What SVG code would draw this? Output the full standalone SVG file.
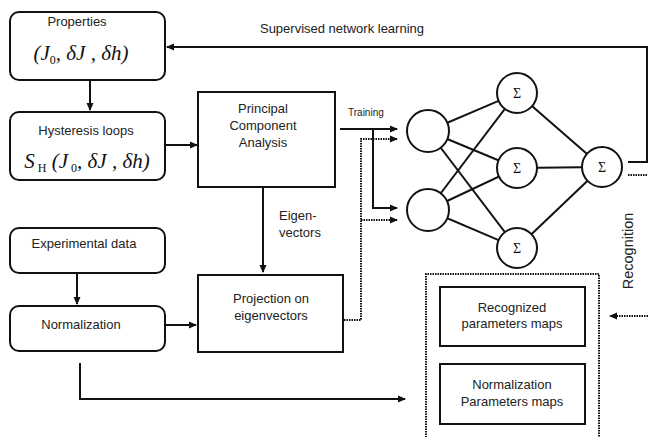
<svg xmlns="http://www.w3.org/2000/svg" width="648" height="437" viewBox="0 0 648 437">
<defs>
<marker id="ah" viewBox="0 0 8 8" refX="7" refY="4" markerWidth="8" markerHeight="8" markerUnits="userSpaceOnUse" orient="auto">
<path d="M0,0.5 L8,4 L0,7.5 Z" fill="#111"/>
</marker>
</defs>
<style>
.box{fill:#fff;stroke:#111;stroke-width:2}
.lbl{font-family:"Liberation Sans",Arial,sans-serif;font-size:13px;fill:#222;text-anchor:middle}
.sm{font-family:"Liberation Sans",Arial,sans-serif;font-size:10px;fill:#222}
.math{font-family:"Liberation Serif","Times New Roman",serif;font-size:21px;fill:#111;font-style:italic;text-anchor:middle}
.sub{font-size:12px;font-style:normal}
.ln{fill:none;stroke:#111;stroke-width:2}
.dot{fill:none;stroke:#111;stroke-width:2;stroke-dasharray:1.5 1}
.neu{fill:#fff;stroke:#111;stroke-width:2}
.sig{font-family:"Liberation Serif","Times New Roman",serif;font-size:14px;fill:#111;text-anchor:middle}
</style>
<rect width="648" height="437" fill="#fff"/>

<g id="connectors">
<line class="ln" x1="648" y1="47" x2="167" y2="47" marker-end="url(#ah)"/>
<polyline class="ln" points="628,162 647,162 647,47"/>
<line class="dot" x1="628" y1="175" x2="648" y2="175"/>
<line class="dot" x1="648" y1="316" x2="610" y2="316" marker-end="url(#ah)"/>
<line class="ln" x1="90" y1="80" x2="90" y2="110" marker-end="url(#ah)"/>
<line class="ln" x1="165" y1="145" x2="197" y2="145" marker-end="url(#ah)"/>
<line class="ln" x1="263" y1="187" x2="263" y2="272" marker-end="url(#ah)"/>
<line class="ln" x1="77" y1="273" x2="77" y2="304" marker-end="url(#ah)"/>
<line class="ln" x1="165" y1="325" x2="196" y2="325" marker-end="url(#ah)"/>
<polyline class="ln" points="80,363 80,399 405,399" marker-end="url(#ah)"/>
<line class="ln" x1="340" y1="129" x2="397" y2="129" marker-end="url(#ah)"/>
<polyline class="ln" points="373,129 373,208 397,208" marker-end="url(#ah)"/>
<polyline class="dot" points="344,320 361,320 361,139 397,139" marker-end="url(#ah)"/>
<line class="dot" x1="361" y1="220" x2="397" y2="220" marker-end="url(#ah)"/>
<g id="nn-links" class="ln">
<line x1="428" y1="131" x2="517" y2="93"/>
<line x1="428" y1="131" x2="517" y2="168"/>
<line x1="428" y1="131" x2="517" y2="248"/>
<line x1="428" y1="210" x2="517" y2="93"/>
<line x1="428" y1="210" x2="517" y2="168"/>
<line x1="428" y1="210" x2="517" y2="248"/>
<line x1="517" y1="93" x2="602" y2="167"/>
<line x1="517" y1="168" x2="602" y2="167"/>
<line x1="517" y1="248" x2="602" y2="167"/>
</g>
</g>

<text class="lbl" x="342" y="32.5">Supervised network learning</text>
<text class="sm" x="348" y="115.5">Training</text>
<text class="lbl" x="279" y="219.5" style="text-anchor:start">Eigen-</text>
<text class="lbl" x="279" y="236.5" style="text-anchor:start">vectors</text>
<text class="lbl" font-size="14.5" style="font-size:14.5px" transform="translate(633,251) rotate(-90)">Recognition</text>

<g id="properties">
<rect class="box" x="10" y="12" width="155" height="68" rx="9"/>
<text class="lbl" x="77" y="25.5">Properties</text>
<text class="math" x="81" y="60">(J<tspan class="sub" dy="4">0</tspan><tspan dy="-4">, δJ , δh)</tspan></text>
</g>
<g id="hysteresis">
<rect class="box" x="10" y="112" width="155" height="68" rx="9"/>
<text class="lbl" x="86" y="134.5">Hysteresis loops</text>
<text class="math" x="87" y="168" style="font-size:21px">S<tspan class="sub" font-size="11" dy="4"> H</tspan><tspan dy="-4"> (J</tspan><tspan class="sub" dy="4"> 0</tspan><tspan dy="-4">, δJ , δh)</tspan></text>
</g>
<g id="pca">
<rect class="box" x="198" y="92" width="137" height="95"/>
<text class="lbl" x="263" y="112.5">Principal</text>
<text class="lbl" x="263" y="129.5">Component</text>
<text class="lbl" x="263" y="146.5">Analysis</text>
</g>
<g id="experimental">
<rect class="box" x="10" y="228" width="155" height="45" rx="9"/>
<text class="lbl" x="84" y="247.5">Experimental data</text>
</g>
<g id="normalization">
<rect class="box" x="10" y="306" width="155" height="45" rx="9"/>
<text class="lbl" x="81" y="328.5">Normalization</text>
</g>
<g id="projection">
<rect class="box" x="198" y="275" width="145" height="77"/>
<text class="lbl" x="271" y="302.5">Projection on</text>
<text class="lbl" x="271" y="319.5">eigenvectors</text>
</g>
<g id="outputs">
<path class="dot" d="M426,440 V274 H599 V440"/>
</g>
<g id="recognized">
<rect class="box" x="440" y="287" width="145" height="59"/>
<text class="lbl" x="512" y="311.5">Recognized</text>
<text class="lbl" x="512" y="327.5">parameters maps</text>
</g>
<g id="normmaps">
<rect class="box" x="440" y="364" width="145" height="60"/>
<text class="lbl" x="512" y="388.5">Normalization</text>
<text class="lbl" x="512" y="405.5">Parameters maps</text>
</g>
<g id="in1"><circle class="neu" cx="428" cy="131" r="21"/></g>
<g id="in2"><circle class="neu" cx="428" cy="210" r="21"/></g>
<g id="h1"><circle class="neu" cx="517" cy="93" r="20"/><text class="sig" x="517" y="98">Σ</text></g>
<g id="h2"><circle class="neu" cx="517" cy="168" r="20"/><text class="sig" x="517" y="173">Σ</text></g>
<g id="h3"><circle class="neu" cx="517" cy="248" r="20"/><text class="sig" x="517" y="253">Σ</text></g>
<g id="out"><circle class="neu" cx="602" cy="167" r="20"/><text class="sig" x="602" y="172">Σ</text></g>
</svg>
